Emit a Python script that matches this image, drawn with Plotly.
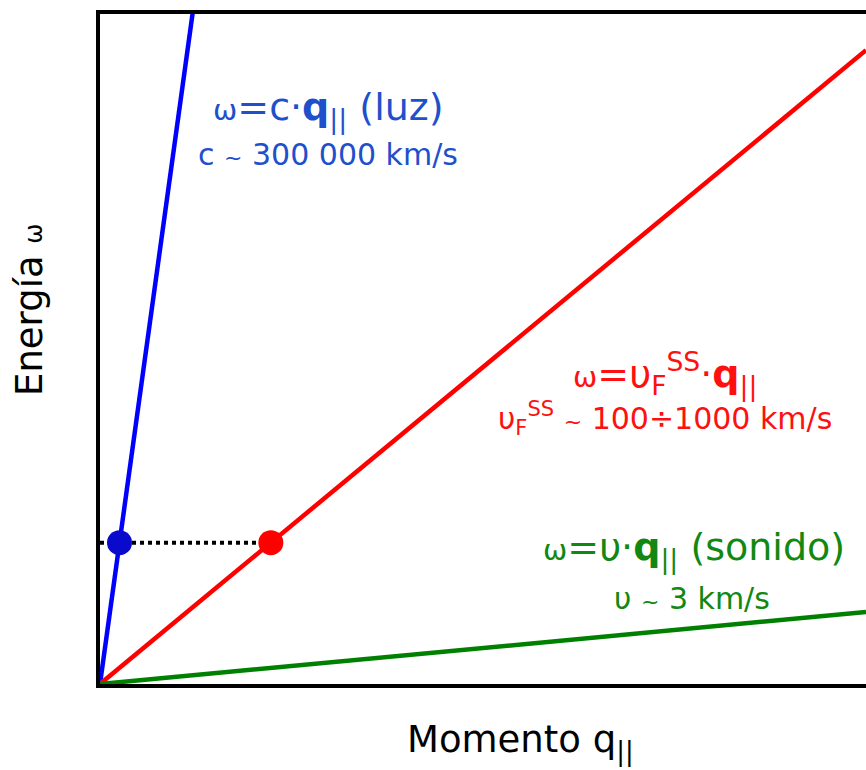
import plotly.graph_objects as go

# --- data (arbitrary units, axes span 0..1) ---
series_names = ["luz", "Fermi SS", "sonido"]
slopes = [8.28, 0.946, 0.1075]          # omega / q for light, Fermi velocity, sound
line_colors = ["#0000ff", "#ff0000", "#008000"]
q_span = [0.0, 1.0]
omega_level = 0.211                     # common energy of the two marked points

fig = go.Figure()

# dispersion lines
for name, s, col in zip(series_names, slopes, line_colors):
    fig.add_trace(go.Scatter(x=q_span, y=[s * q for q in q_span], mode="lines",
                             line=dict(color=col, width=4.5), name=name,
                             hoverinfo="skip"))

# points at same energy
q_light = omega_level / slopes[0]
q_fermi = omega_level / slopes[1]
fig.add_trace(go.Scatter(x=[0, q_fermi], y=[omega_level, omega_level], mode="lines",
                         line=dict(color="black", width=4, dash="dot"), hoverinfo="skip"))
fig.add_trace(go.Scatter(x=[q_light], y=[omega_level], mode="markers",
                         marker=dict(color="#0a0acc", size=25), hoverinfo="skip"))
fig.add_trace(go.Scatter(x=[q_fermi], y=[omega_level], mode="markers",
                         marker=dict(color="#ff0000", size=25), hoverinfo="skip"))

FONT = "Verdana, DejaVu Sans, sans-serif"
W = "<span style='font-size:29px'>ω</span>"
T = "<span style='font-size:22px'>~</span>"
blue_t = "#1f50cc"
green_t = "#118811"
red_t = "#ff1010"

anns = [
    # light
    dict(x=0.298, y=0.857, text=W + "=c·<b>q</b><sub>||</sub> (luz)", color=blue_t, size=38),
    dict(x=0.298, y=0.790, text="c " + T + " 300 000 km/s", color=blue_t, size=30),
    # Fermi
    dict(x=0.738, y=0.462, text=W + "=υ<sub>F</sub><sup>SS</sup>·<b>q</b><sub>||</sub>", color=red_t, size=38),
    dict(x=0.738, y=0.397, text="υ<sub>F</sub><sup>SS</sup> " + T + " 100÷1000 km/s", color=red_t, size=30),
    # sound
    dict(x=0.775, y=0.200, text=W + "=υ·<b>q</b><sub>||</sub> (sonido)", color=green_t, size=38),
    dict(x=0.773, y=0.128, text="υ " + T + " 3 km/s", color=green_t, size=30),
]
for a in anns:
    fig.add_annotation(x=a["x"], y=a["y"], xref="x", yref="y", text=a["text"],
                       showarrow=False, xanchor="center", yanchor="middle",
                       font=dict(family=FONT, size=a["size"], color=a["color"]))

# axis titles as annotations
fig.add_annotation(xref="paper", yref="paper", x=(520 - 100) / 766, y=(770 - 742 - 86) / 670,
                   text="Momento q<sub>||</sub>", showarrow=False, xanchor="center", yanchor="middle",
                   font=dict(family=FONT, size=37, color="black"))
fig.add_annotation(xref="paper", yref="paper", x=(29 - 100) / 766, y=(684 - 310) / 670,
                   text="Energía " + "<span style='font-size:24px'>ω</span>", textangle=-90,
                   showarrow=False, xanchor="center", yanchor="middle",
                   font=dict(family=FONT, size=37, color="black"))

fig.update_layout(
    width=866, height=770,
    margin=dict(l=100, r=0, t=14, b=86),
    paper_bgcolor="white", plot_bgcolor="white",
    showlegend=False,
    xaxis=dict(range=[0, 1], showgrid=False, zeroline=False, showticklabels=False, ticks="",
               showline=True, linewidth=4, linecolor="black", mirror=True, fixedrange=True),
    yaxis=dict(range=[0, 1], showgrid=False, zeroline=False, showticklabels=False, ticks="",
               showline=True, linewidth=4, linecolor="black", mirror=False, fixedrange=True),
)

fig.write_html("out.html")
